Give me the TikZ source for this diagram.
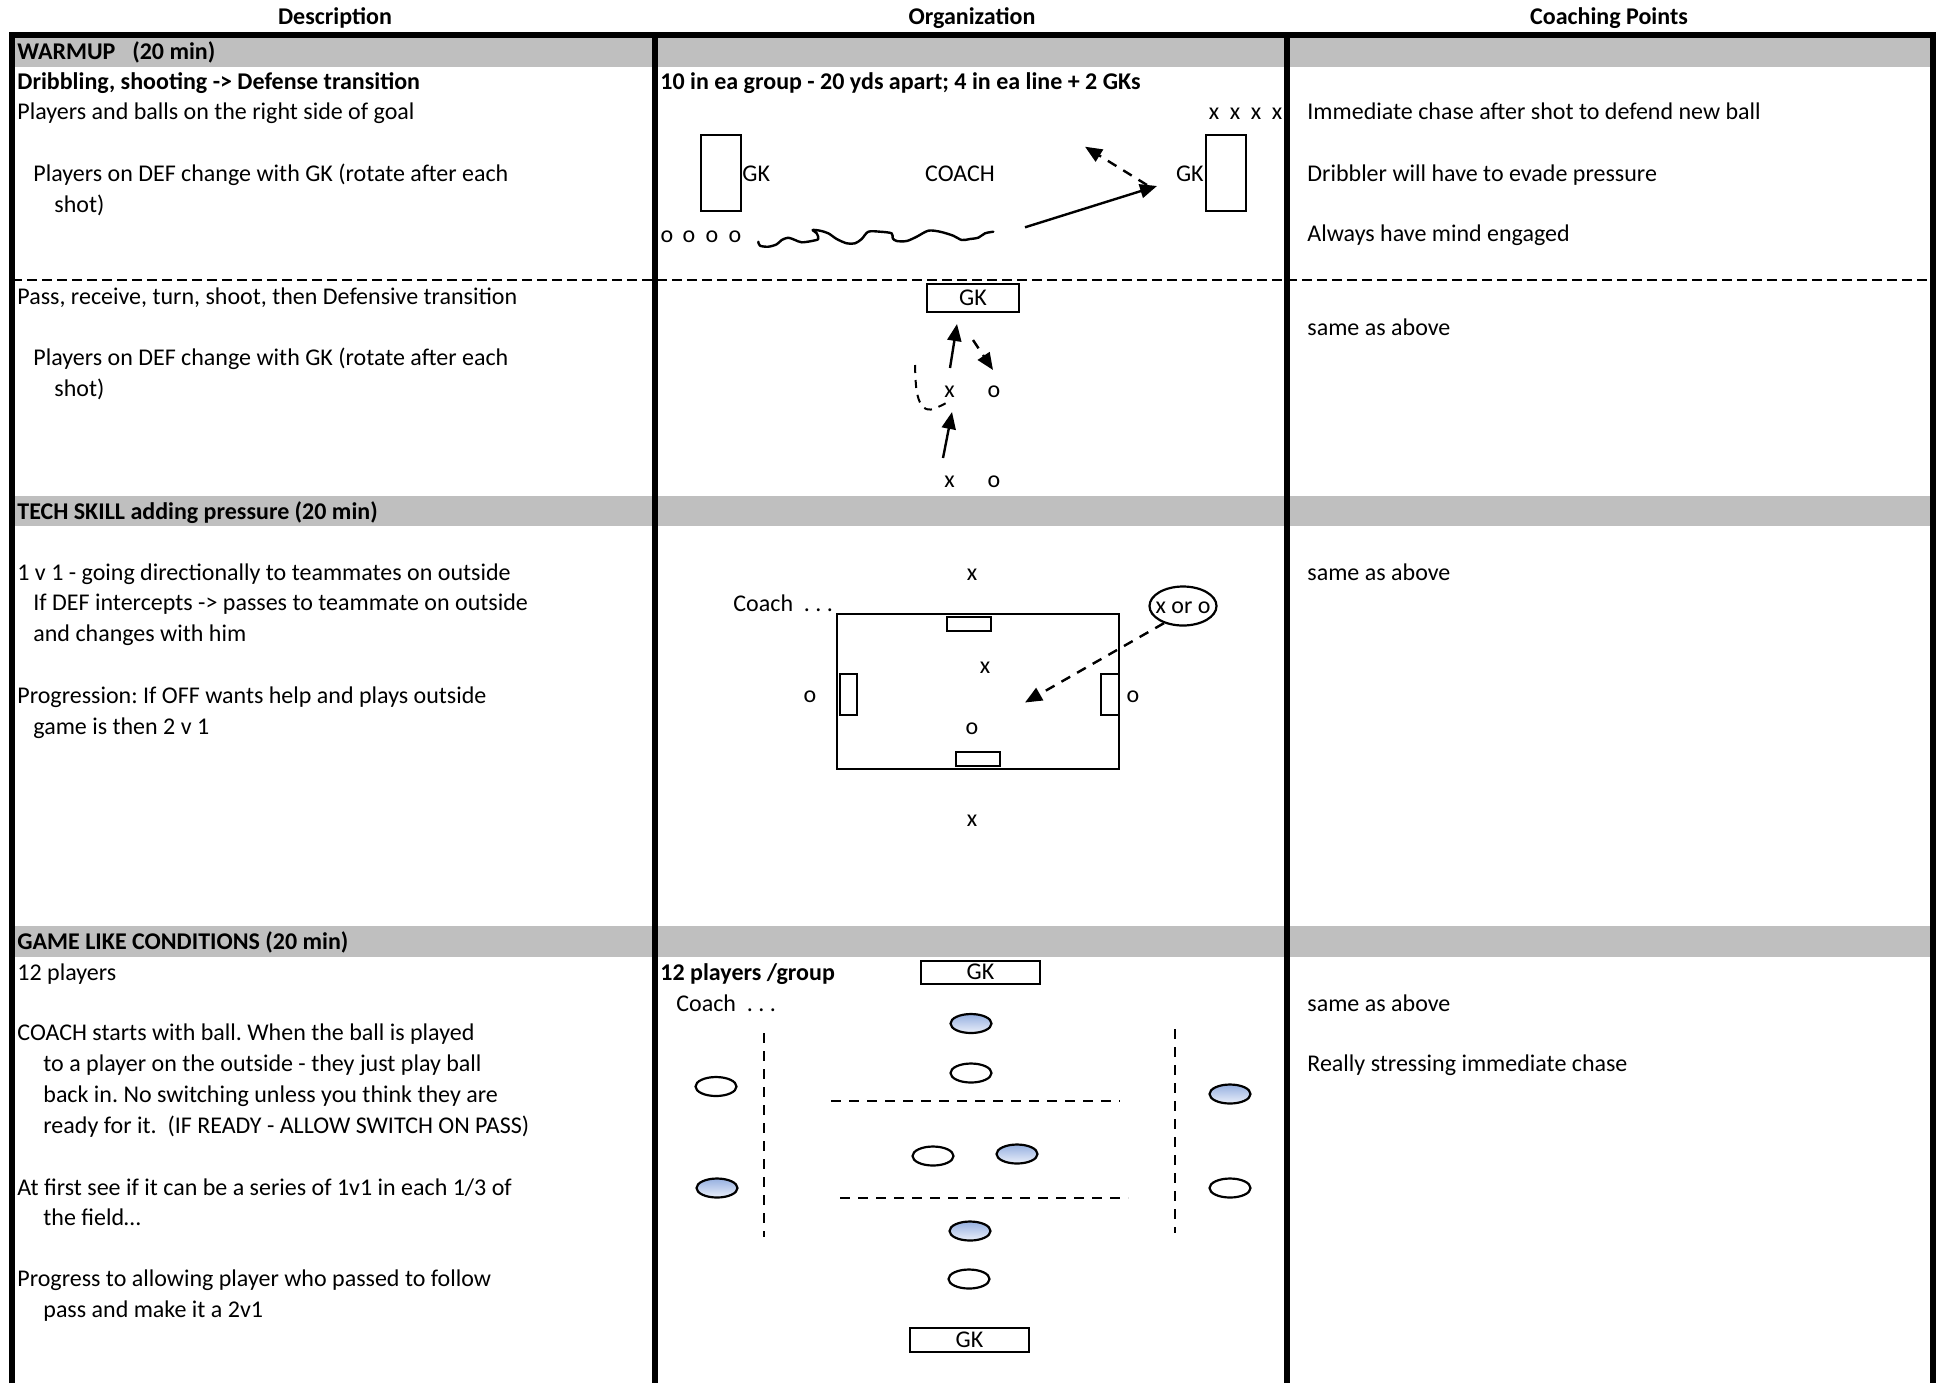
\documentclass[tikz,border=0pt]{standalone}
\usepackage{fontspec}
\setmainfont{Carlito}
\usetikzlibrary{arrows.meta,shapes.geometric}
\definecolor{band}{RGB}{191,191,191}
\definecolor{ballblue}{RGB}{150,176,224}
\definecolor{balllight}{RGB}{234,239,250}
\newcommand{\myfs}{\fontsize{12}{14.4}\selectfont}
\frenchspacing
\begin{document}
\begin{tikzpicture}[x=0.5pt,y=-0.5pt,
  txt/.style={anchor=base west,inner sep=0pt,font=\myfs},
  btxt/.style={anchor=base west,inner sep=0pt,font=\myfs\bfseries},
  hdr/.style={anchor=base,inner sep=0pt,font=\myfs\bfseries},
  ctxt/.style={anchor=base,inner sep=0pt,font=\myfs},
  goal/.style={draw,line width=1pt,inner sep=0pt,fill=white,font=\myfs},
  ball/.style={draw,ellipse,line width=1.1pt,minimum width=20.5pt,minimum height=9.5pt,inner sep=0pt},
  blueball/.style={ball,top color=ballblue,bottom color=balllight},
  arr/.style={line width=1.2pt,-{Triangle[length=8.5pt,width=7pt]}},
  darr/.style={arr,dash pattern=on 5pt off 4pt},
  dline/.style={line width=1pt,dash pattern=on 5pt off 4pt},
  border/.style={line width=2.6pt},
]
\useasboundingbox (0,0) rectangle (1936,1383);
% bands
\fill[band] (12,37) rectangle (1933,67);
\fill[band] (12,496) rectangle (1933,526);
\fill[band] (12,926) rectangle (1933,957);
% dashed separator
\draw[line width=1.1pt,dash pattern=on 5pt off 2.5pt] (12,280) -- (1936,280);
% borders
\draw[border] (12,1383) -- (12,35) -- (1933,35) -- (1933,1383);
\draw[border] (655,35) -- (655,1383);
\draw[border] (1287,35) -- (1287,1383);
% headers
\node[hdr] (h1) at (335,24) {Description};
\node[hdr] (h2) at (972,24) {Organization};
\node[hdr] (h3) at (1609,24) {Coaching Points};
% column 1
\node[btxt] (a1) at (17,59) {WARMUP\hspace{0.7em}(20 min)};
\node[btxt] (a2) at (17,89.5) {Dribbling, shooting -> Defense transition};
\node[txt] (a3) at (17,119) {Players and balls on the right side of goal};
\node[txt] (a4) at (33,181) {Players on DEF change with GK (rotate after each};
\node[txt] (a5) at (54,212) {shot)};
\node[txt] (a6) at (17,304) {Pass, receive, turn, shoot, then Defensive transition};
\node[txt] (a7) at (33,365) {Players on DEF change with GK (rotate after each};
\node[txt] (a8) at (54,396) {shot)};
\node[btxt] (a9) at (17,519) {TECH SKILL adding pressure (20 min)};
\node[txt] (a10) at (17,580) {1 v 1 - going directionally to teammates on outside};
\node[txt] (a11) at (33,610.5) {If DEF intercepts -> passes to teammate on outside};
\node[txt] (a12) at (33,641) {and changes with him};
\node[txt] (a13) at (17,703) {Progression: If OFF wants help and plays outside};
\node[txt] (a14) at (33,734) {game is then 2 v 1};
\node[btxt] (a15) at (17,949) {GAME LIKE CONDITIONS (20 min)};
\node[txt] (a16) at (17,980) {12 players};
\node[txt] (a17) at (17,1040) {COACH starts with ball. When the ball is played};
\node[txt] (a18) at (43,1071) {to a player on the outside - they just play ball};
\node[txt] (a19) at (43,1102) {back in. No switching unless you think they are};
\node[txt] (a20) at (43,1133) {ready for it.\ \ (IF READY - ALLOW SWITCH ON PASS)};
\node[txt] (a21) at (17,1195) {At first see if it can be a series of 1v1 in each 1/3 of};
\node[txt] (a22) at (43,1225) {the field…};
\node[txt] (a23) at (17,1286) {Progress to allowing player who passed to follow};
\node[txt] (a24) at (43,1317) {pass and make it a 2v1};
% column 3
\node[txt] (c1) at (1307,119) {Immediate chase after shot to defend new ball};
\node[txt] (c2) at (1307,181) {Dribbler will have to evade pressure};
\node[txt] (c3) at (1307,241) {Always have mind engaged};
\node[txt] (c4) at (1307,335) {same as above};
\node[txt] (c5) at (1307,580) {same as above};
\node[txt] (c6) at (1307,1011) {same as above};
\node[txt] (c7) at (1307,1071) {Really stressing immediate chase};
% column 2 : diagram 1
\node[btxt] (b1) at (660,89.5) {10 in ea group - 20 yds apart; 4 in ea line + 2 GKs};
\node[ctxt] (x1) at (1214,119) {x};
\node[ctxt] (x2) at (1235,119) {x};
\node[ctxt] (x3) at (1256,119) {x};
\node[ctxt] (x4) at (1277,119) {x};
\node[goal,minimum width=20pt,minimum height=38pt] (gk1) at (721,173) {};
\node[txt] (gk1t) at (742,181) {GK};
\node[ctxt] (coach1) at (960,181) {COACH};
\node[goal,minimum width=20pt,minimum height=38pt] (gk2) at (1226,173) {};
\node[anchor=base east,inner sep=0pt,font=\myfs] (gk2t) at (1204,181) {GK};
\node[ctxt] (o1) at (667,242) {o};
\node[ctxt] (o2) at (689,242) {o};
\node[ctxt] (o3) at (712,242) {o};
\node[ctxt] (o4) at (735,242) {o};
\draw[line width=1.2pt,line cap=round,line join=round] plot[smooth,tension=0.5] coordinates {
 (758.3,241.7) (760,245.7) (768.3,246.7) (776.7,244.3) (781.7,240) (788.3,237.7) (795,240)
 (801.7,242.3) (811.7,241) (818.3,239) (816.7,233.3) (812.7,230) (820,230.7) (828.3,233.3)
 (836.7,239) (846.7,243.3) (855,243.3) (861.7,239) (868.3,231.7) (880,231.7) (891.7,233.3)
 (892.7,238.3) (896.7,241) (906.7,241) (916.7,236.7) (928.3,230.7) (940,231.7) (953.3,235.7)
 (961.7,240) (970,239) (978.3,237.7) (985,233.3) (993.3,231.7)};
\coordinate (s1a) at (1025,227.3);
\coordinate (s1b) at (1157,186);
\coordinate (d1a) at (1147,185);
\coordinate (d1b) at (1085,146.7);
\draw[arr] (s1a) -- (s1b);
\draw[darr] (d1a) -- (d1b);
% diagram 2
\node[goal,minimum width=46pt,minimum height=14pt] (gk3) at (973,298) {GK};
\node[ctxt] (x5) at (949.5,397) {x};
\node[ctxt] (o5) at (994,397) {o};
\node[ctxt] (x6) at (949.5,487) {x};
\node[ctxt] (o6) at (994,487) {o};
\coordinate (s2a) at (950,368);
\coordinate (s2b) at (957,324);
\coordinate (d2a) at (973,340);
\coordinate (d2b) at (993,370);
\coordinate (s3a) at (943,458);
\coordinate (s3b) at (952,412);
\draw[arr] (s2a) -- (s2b);
\draw[darr] (d2a) -- (d2b);
\draw[arr] (s3a) -- (s3b);
\draw[line width=1pt,dash pattern=on 4pt off 3.5pt] plot[smooth,tension=0.6] coordinates {(915,365) (916.5,390) (921.5,405) (931,409.5) (948,402)};
% diagram 3
\node[ctxt] (x7) at (972,580) {x};
\node[txt] (coach2) at (733,611) {Coach\ \ .\ .\ .};
\node[draw,line width=1pt,minimum width=141pt,minimum height=77.5pt,inner sep=0pt] (field) at (978,691.5) {};
\node[goal,minimum width=22pt,minimum height=7pt] (g1) at (969,624) {};
\node[goal,minimum width=22pt,minimum height=7pt] (g2) at (978,759) {};
\node[goal,minimum width=8.5pt,minimum height=20.5pt] (g3) at (848.5,694.5) {};
\node[goal,minimum width=9pt,minimum height=20.5pt] (g4) at (1110,694.5) {};
\node[ctxt] (x8) at (985,673) {x};
\node[ctxt] (o7) at (810,702) {o};
\node[ctxt] (o8) at (1133,702) {o};
\node[ctxt] (o9) at (972,734) {o};
\node[ctxt] (x9) at (972,826) {x};
\node[draw,ellipse,line width=1.1pt,minimum width=33.5pt,minimum height=19.5pt,inner sep=0pt] (xo) at (1183,606) {};
\node[ctxt] (xot) at (1183,613) {x or o};
\coordinate (d3b) at (1025,702.5);
\draw[darr] (xo.222) -- (d3b);
% diagram 4
\node[btxt] (b2) at (660,980) {12 players /group};
\node[goal,minimum width=59.5pt,minimum height=11.5pt] (gk4) at (980.5,972) {GK};
\node[txt] (coach3) at (676,1011) {Coach\ \ .\ .\ .};
\node[blueball] (p1) at (971,1023.5) {};
\node[ball] (p2) at (971,1073) {};
\node[ball] (p3) at (716,1086.5) {};
\node[blueball] (p4) at (1230,1094) {};
\node[ball] (p5) at (933,1156) {};
\node[blueball] (p6) at (1017,1154) {};
\node[blueball] (p7) at (717,1188) {};
\node[ball] (p8) at (1230,1188) {};
\node[blueball] (p9) at (970,1231) {};
\node[ball] (p10) at (969,1279) {};
\coordinate (v1a) at (764,1033);
\coordinate (v1b) at (764,1237);
\coordinate (v2a) at (1175,1029);
\coordinate (v2b) at (1175,1233);
\coordinate (h1a) at (831,1100.5);
\coordinate (h1b) at (1120,1100.5);
\coordinate (h2a) at (840,1198);
\coordinate (h2b) at (1128,1198);
\draw[dline] (v1a) -- (v1b);
\draw[dline] (v2a) -- (v2b);
\draw[dline] (h1a) -- (h1b);
\draw[dline] (h2a) -- (h2b);
\node[goal,minimum width=59.5pt,minimum height=12pt] (gk5) at (969.5,1340) {GK};
\end{tikzpicture}
\end{document}
